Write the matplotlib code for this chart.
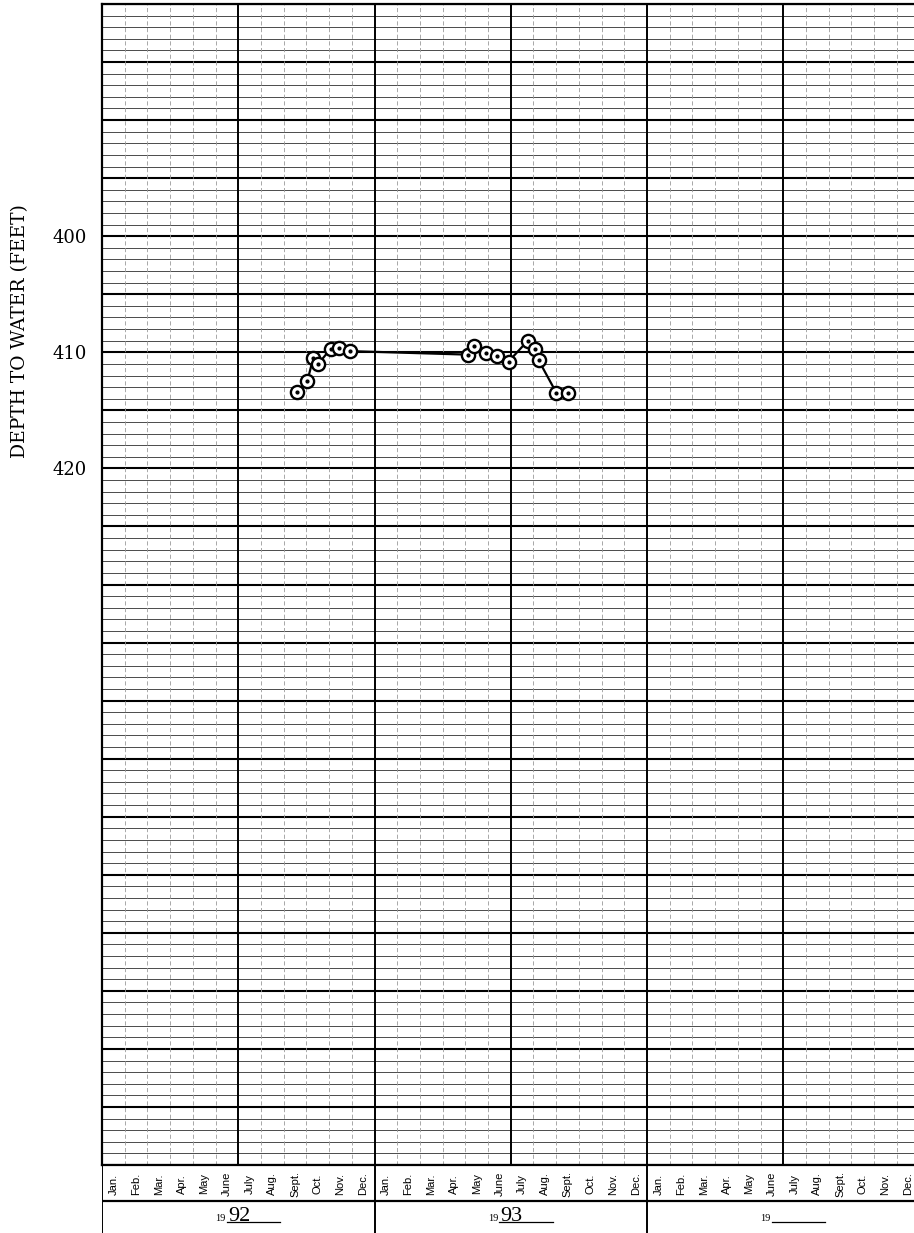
#!/usr/bin/env python3
# -*- coding: utf-8 -*-
"""
Well hydrograph on printed grid paper: depth to water, 1992-1993.
"""

import matplotlib
matplotlib.use('Agg')
import matplotlib.pyplot as plt

# Measurements: decimal months counted from 1 Jan 1992, and depth (feet)
meas_month = [8.57, 9.04, 9.30, 9.52, 10.07, 10.44, 10.93,
              16.11, 16.37, 16.92, 17.40, 17.90,
              18.75, 19.08, 19.23, 20.01, 20.53]
meas_depth = [413.4, 412.5, 410.5, 411.0, 409.7, 409.6, 409.9,
              410.2, 409.5, 410.1, 410.3, 410.8,
              409.0, 409.7, 410.7, 413.5, 413.5]

month_names = ['Jan.', 'Feb.', 'Mar.', 'Apr.', 'May', 'June',
               'July', 'Aug.', 'Sept.', 'Oct.', 'Nov.', 'Dec.']
year_suffix = ['92', '93', '']
depth_ticks = [400, 410, 420]
depth_range = (380, 480)

W, H = 914, 1233
X_LEFT = 102          # pixel of 1 Jan 1992
GRID_TOP = 4
GRID_BOTTOM = 1165
PX_PER_MONTH = 22.71
n_months = (W - X_LEFT) / PX_PER_MONTH

fig = plt.figure(figsize=(W / 100, H / 100), dpi=100)

# ---- main grid ----
ax = fig.add_axes([X_LEFT / W, 1 - GRID_BOTTOM / H,
                   1 - X_LEFT / W, (GRID_BOTTOM - GRID_TOP) / H])
ax.set_xlim(0, n_months)
ax.set_ylim(depth_range[1], depth_range[0])

for d in range(depth_range[0], depth_range[1] + 1):
    if d % 5 == 0:
        ax.axhline(d, color='black', lw=1.5, zorder=1)
    else:
        ax.axhline(d, color='#4a4a4a', lw=0.7, zorder=1)

for m in range(0, 37):
    if m % 6 == 0:
        ax.axvline(m, color='black', lw=1.4, zorder=1)
    else:
        ax.axvline(m, color='#9a9a9a', lw=0.6, ls=(0, (5, 3)), zorder=1)

ax.plot(meas_month, meas_depth, color='black', lw=1.6, zorder=3)
ax.plot(meas_month, meas_depth, ls='none', marker='o', ms=9.5,
        mfc='white', mec='black', mew=1.7, zorder=4)
ax.plot(meas_month, meas_depth, ls='none', marker='o', ms=2,
        color='black', zorder=5)

ax.set_xticks([])
ax.set_yticks(depth_ticks)
ax.set_yticklabels([str(t) for t in depth_ticks],
                   fontfamily='DejaVu Serif', fontsize=13)
ax.tick_params(axis='y', length=0, pad=11)
for side in ['left', 'top', 'bottom']:
    ax.spines[side].set_linewidth(1.6)
ax.spines['right'].set_visible(False)

fig.text(20 / W, 1 - 331 / H, 'DEPTH TO WATER (FEET)', rotation=90,
         ha='center', va='center', fontfamily='DejaVu Serif', fontsize=13.5)

# ---- month / year strip below the grid ----
bx = fig.add_axes([X_LEFT / W, 0, 1 - X_LEFT / W, (H - GRID_BOTTOM) / H])
bx.set_xlim(0, n_months)
bx.set_ylim(H - GRID_BOTTOM, 0)
bx.axis('off')

bx.axhline(36, color='black', lw=1.6)
for k in range(4):
    bx.axvline(12 * k, color='black', lw=1.4)

for k in range(3):
    for i, name in enumerate(month_names):
        mx = 12 * k + i + 0.5
        if mx < n_months:
            bx.text(mx, 19, name, rotation=90, ha='center', va='center',
                    fontfamily='Liberation Sans', fontsize=8)
    x0 = 12 * k + 5.5
    bx.text(x0 - 0.05, 56, '19', ha='right', va='baseline',
            fontfamily='Liberation Serif', fontsize=7.5)
    if year_suffix[k]:
        bx.text(x0 + 0.05, 56, year_suffix[k], ha='left', va='baseline',
                fontfamily='Liberation Serif', fontsize=16)
    bx.plot([x0, x0 + 2.35], [56.5, 56.5], color='black', lw=0.9)

plt.savefig('out.png', dpi=100)
plt.close()
